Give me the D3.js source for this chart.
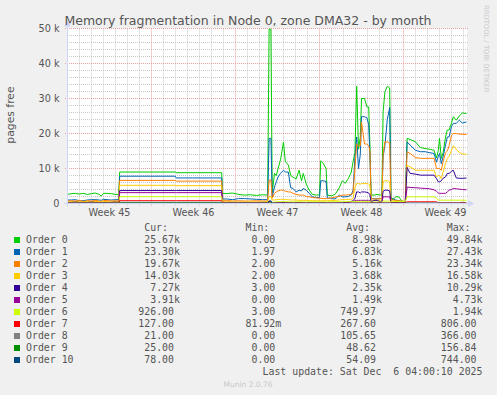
<!DOCTYPE html>
<html>
<head>
<meta charset="utf-8">
<script src="https://cdn.jsdelivr.net/npm/d3@7"></script>
<style>
  html, body { margin: 0; padding: 0; background: #f0f0f0; }
  svg { display: block; }
</style>
</head>
<body>
<script>
(function(){

//sample times, in days after Monday 3 Nov 2025 00:00
var days = [0, 0.3, 0.65, 1.0, 1.3, 1.65, 2.0, 2.3, 2.65, 2.8, 3.0, 3.3, 3.65, 4.0, 4.27,
  4.35, 8.98, 9.06, 12.85, 12.93,
  13.25, 13.75, 14.25, 14.75, 15.25, 15.75, 16.25, 16.68,
  16.8, 16.95, 17.06,
  17.25, 17.4, 17.55, 17.75, 18.0, 18.15, 18.4, 18.6, 18.8, 19.05, 19.3, 19.5, 19.65, 19.9, 20.15,
  20.4, 20.75, 21.0, 21.1, 21.3, 21.55, 21.65, 22.0, 22.3, 22.65, 22.9, 23.15, 23.4, 23.65, 23.8,
  23.95, 24.1, 24.25, 24.4, 24.5, 24.75, 24.95, 25.1, 25.2, 25.3, 25.55, 25.8, 26.05, 26.2, 26.3,
  26.45, 26.65, 26.85, 26.95, 27.1, 27.35, 27.6, 27.85, 28.05, 28.15,
  28.3, 28.55, 29.0, 29.4, 29.8, 30.2, 30.55, 30.75, 30.9, 31.0, 31.15, 31.3, 31.5, 31.65, 31.8,
  32.0, 32.15, 32.4, 32.65, 32.9, 33.25];

//pages free, in thousands
var order0 = [2.6, 2.8, 2.9, 2.7, 2.9, 2.6, 2.8, 3.0, 2.6, 2.1, 2.9, 2.9, 2.8, 2.6, 2.6,
  9.0, 9.0, 8.8, 8.8, 2.9,
  2.8, 3.0, 2.6, 2.4, 2.5, 2.3, 2.5, 2.4,
  49.8, 49.8, 3.0,
  8.6, 8.0, 10.0, 12.5, 17.5, 12.0, 11.0, 8.0, 7.5, 7.0, 9.5, 6.5, 8.6, 5.5, 3.8,
  2.6, 2.4, 2.5, 12.2, 11.5, 10.0, 2.4, 2.2, 2.6, 4.5, 6.5, 5.8, 7.1, 9.0, 12.0,
  14.5, 33.5, 15.5, 19.0, 30.0, 30.0, 27.6, 27.6, 17.0, 2.4, 2.4, 2.6, 2.4, 2.6, 26.2,
  31.9, 33.5, 33.0, 2.0, 1.0, 1.9, 1.9, 0.8, 0.3, 0.5,
  18.6, 18.3, 17.6, 16.0, 15.7, 15.5, 15.2, 13.0, 15.2, 18.6, 12.9, 14.5, 19.0, 21.0, 21.0,
  23.0, 24.8, 23.8, 25.0, 25.9, 25.67];
var order1 = [1.0, 1.0, 1.1, 0.8, 0.8, 1.0, 1.1, 1.1, 1.0, 0.9, 1.2, 1.1, 1.0, 1.1, 1.1,
  7.8, 7.8, 7.3, 7.3, 1.3,
  1.3, 1.1, 1.4, 1.4, 1.3, 1.2, 1.1, 1.1,
  18.6, 18.6, 1.9,
  4.7, 6.2, 7.6, 8.6, 9.5, 9.0, 9.0, 4.5, 4.3, 3.3, 3.8, 3.6, 4.3, 3.8, 2.9,
  1.9, 1.7, 1.7, 6.5, 6.5, 6.3, 1.6, 1.4, 1.3, 2.4, 1.9, 1.9, 2.0, 2.5, 3.8,
  13.0, 19.0, 10.0, 14.0, 24.8, 24.8, 24.5, 22.5, 14.0, 1.4, 1.4, 1.3, 1.4, 1.5, 13.3,
  16.5, 24.0, 27.4, 1.5, 1.4, 1.0, 0.8, 0.6, 0.5, 0.5,
  17.6, 16.7, 15.2, 14.8, 14.8, 14.5, 14.3, 11.8, 13.5, 14.3, 11.4, 13.3, 16.7, 19.0, 19.0,
  22.0, 22.9, 22.9, 23.8, 23.0, 23.3];
var order2 = [0.7, 0.8, 0.7, 0.9, 0.6, 0.8, 0.7, 0.9, 0.7, 0.6, 0.8, 0.9, 0.7, 0.8, 0.7,
  6.6, 6.6, 6.4, 6.4, 0.9,
  0.9, 0.7, 0.8, 0.7, 0.7, 0.8, 0.7, 0.7,
  6.7, 6.7, 1.5,
  2.9, 3.3, 3.6, 3.8, 3.8, 3.5, 3.3, 3.3, 2.9, 2.6, 2.4, 2.4, 2.4, 2.0, 1.9,
  1.7, 1.6, 1.5, 1.5, 1.4, 1.4, 1.4, 1.6, 1.8, 2.1, 2.4, 2.4, 2.5, 2.6, 3.0,
  10.0, 17.0, 16.5, 16.5, 23.3, 17.0, 17.0, 16.5, 15.0, 1.4, 1.3, 1.3, 1.4, 1.4, 14.0,
  17.6, 17.6, 17.3, 1.2, 1.0, 0.9, 0.8, 0.7, 0.6, 0.6,
  14.8, 14.3, 13.1, 12.9, 12.9, 12.9, 12.9, 10.0, 10.0, 10.0, 9.5, 12.0, 14.5, 15.0, 16.5,
  19.5, 20.0, 20.0, 19.8, 19.8, 19.67];
var order3 = [0.5, 0.5, 0.6, 0.5, 0.5, 0.6, 0.5, 0.6, 0.5, 0.5, 0.6, 0.5, 0.5, 0.6, 0.5,
  5.2, 5.2, 5.1, 5.1, 0.5,
  0.5, 0.5, 0.4, 0.5, 0.5, 0.4, 0.5, 0.5,
  2.0, 2.0, 1.0,
  1.0, 1.1, 1.1, 1.2, 1.2, 1.1, 1.1, 1.0, 1.0, 1.0, 0.9, 0.9, 0.9, 0.9, 0.8,
  0.8, 0.8, 0.8, 0.8, 0.8, 0.8, 0.8, 0.8, 0.9, 1.0, 1.1, 1.1, 1.2, 1.2, 1.5,
  4.5, 5.7, 5.7, 5.5, 5.7, 5.7, 5.7, 5.6, 5.0, 0.9, 0.9, 0.9, 0.9, 1.0, 6.2,
  6.5, 6.5, 6.2, 0.8, 0.7, 0.6, 0.5, 0.5, 0.4, 0.4,
  10.9, 10.5, 9.5, 9.5, 9.5, 9.5, 9.5, 7.6, 8.0, 8.0, 7.1, 9.0, 11.4, 12.9, 13.5,
  15.2, 16.5, 15.5, 14.6, 14.2, 14.03];
var order4 = [0.3, 0.3, 0.4, 0.3, 0.3, 0.3, 0.4, 0.3, 0.3, 0.2, 0.3, 0.3, 0.3, 0.4, 0.3,
  3.7, 3.7, 3.7, 3.7, 0.3,
  0.3, 0.3, 0.3, 0.3, 0.2, 0.3, 0.3, 0.3,
  0.6, 0.6, 0.2,
  0.2, 0.2, 0.3, 0.3, 0.3, 0.2, 0.2, 0.2, 0.2, 0.2, 0.2, 0.2, 0.2, 0.2, 0.2,
  0.1, 0.1, 0.1, 0.2, 0.2, 0.2, 0.1, 0.1, 0.1, 0.2, 0.2, 0.3, 0.4, 0.6, 0.8,
  1.5, 3.3, 3.3, 3.0, 3.3, 3.3, 3.2, 3.0, 2.5, 0.5, 0.9, 0.9, 0.5, 0.4, 3.5,
  3.8, 3.8, 3.6, 0.4, 0.3, 0.3, 0.2, 0.2, 0.2, 0.2,
  10.3, 8.6, 8.4, 8.1, 8.1, 8.1, 8.1, 7.1, 6.2, 6.2, 6.5, 7.2, 7.6, 8.6, 8.6,
  9.2, 9.5, 7.3, 7.2, 7.2, 7.27];
var order5 = [0.2, 0.2, 0.2, 0.2, 0.2, 0.2, 0.2, 0.2, 0.2, 0.2, 0.2, 0.2, 0.2, 0.2, 0.2,
  3.1, 3.1, 3.1, 3.1, 0.2,
  0.2, 0.2, 0.2, 0.2, 0.2, 0.2, 0.2, 0.2,
  0.4, 0.4, 0.1,
  0.1, 0.1, 0.1, 0.1, 0.1, 0.1, 0.1, 0.1, 0.1, 0.1, 0.1, 0.1, 0.1, 0.1, 0.1,
  0.1, 0.1, 0.1, 0.1, 0.1, 0.1, 0.1, 0.1, 0.1, 0.1, 0.1, 0.2, 0.3, 0.5, 0.6,
  0.8, 0.9, 0.9, 0.9, 0.9, 0.9, 0.9, 0.9, 0.9, 0.3, 0.3, 0.3, 0.3, 0.3, 1.9,
  1.9, 1.9, 1.9, 0.3, 0.2, 0.2, 0.2, 0.2, 0.2, 0.2,
  4.7, 4.6, 4.5, 4.4, 4.3, 4.2, 3.9, 3.5, 3.0, 2.9, 2.9, 2.9, 2.9, 3.3, 3.8,
  4.0, 4.3, 4.2, 4.1, 4.0, 3.91];
var order6 = [0.1, 0.1, 0.1, 0.1, 0.1, 0.1, 0.1, 0.1, 0.1, 0.1, 0.1, 0.1, 0.1, 0.1, 0.1,
  1.94, 1.94, 1.94, 1.94, 0.1,
  0.1, 0.1, 0.1, 0.1, 0.1, 0.1, 0.1, 0.1,
  0.3, 0.3, 0.3,
  0.4, 0.5, 0.5, 0.5, 0.6, 0.5, 0.5, 0.5, 0.4, 0.5, 0.5, 0.5, 0.5, 0.4, 0.5,
  0.5, 0.5, 0.5, 0.5, 0.5, 0.4, 0.5, 0.5, 0.5, 0.5, 0.5, 0.6, 0.6, 0.6, 0.6,
  0.6, 0.6, 0.6, 0.6, 0.6, 0.6, 0.6, 0.6, 0.6, 0.4, 0.4, 0.4, 0.4, 0.4, 0.7,
  0.7, 0.7, 0.7, 0.5, 0.5, 0.6, 0.6, 0.6, 0.6, 0.6,
  1.9, 1.9, 1.9, 1.9, 1.9, 1.9, 1.9, 1.5, 0.95, 0.95, 0.95, 0.95, 0.95, 0.95, 0.95,
  0.95, 0.95, 0.95, 0.95, 0.95, 0.926];
var order7 = [0.05, 0.05, 0.05, 0.05, 0.05, 0.05, 0.05, 0.05, 0.05, 0.05, 0.05, 0.05, 0.05, 0.05, 0.05,
  0.8, 0.8, 0.8, 0.8, 0.05,
  0.05, 0.05, 0.05, 0.05, 0.05, 0.05, 0.05, 0.05,
  0.1, 0.1, 0.05,
  0.1, 0.1, 0.1, 0.1, 0.1, 0.1, 0.1, 0.1, 0.1, 0.1, 0.1, 0.1, 0.1, 0.1, 0.1,
  0.1, 0.1, 0.1, 0.1, 0.1, 0.1, 0.1, 0.1, 0.1, 0.1, 0.1, 0.1, 0.1, 0.1, 0.1,
  0.15, 0.15, 0.15, 0.15, 0.15, 0.15, 0.15, 0.15, 0.15, 0.15, 0.15, 0.15, 0.15, 0.15, 0.15,
  0.15, 0.15, 0.15, 0.15, 0.15, 0.15, 0.15, 0.15, 0.15, 0.15,
  0.5, 0.5, 0.5, 0.5, 0.5, 0.5, 0.5, 0.5, 0.2, 0.2, 0.2, 0.2, 0.2, 0.2, 0.2,
  0.2, 0.2, 0.2, 0.2, 0.35, 0.127];
var order8 = [0.05, 0.05, 0.05, 0.05, 0.05, 0.05, 0.05, 0.05, 0.05, 0.05, 0.05, 0.05, 0.05, 0.05, 0.05,
  0.35, 0.35, 0.35, 0.35, 0.05,
  0.05, 0.05, 0.05, 0.05, 0.05, 0.05, 0.05, 0.05,
  0.1, 0.1, 0.05,
  0.05, 0.05, 0.05, 0.05, 0.05, 0.05, 0.05, 0.05, 0.05, 0.05, 0.05, 0.05, 0.05, 0.05, 0.05,
  0.05, 0.05, 0.05, 0.05, 0.05, 0.05, 0.05, 0.05, 0.05, 0.05, 0.05, 0.05, 0.05, 0.05, 0.05,
  0.08, 0.08, 0.08, 0.08, 0.08, 0.08, 0.08, 0.08, 0.08, 0.08, 0.08, 0.08, 0.08, 0.08, 0.08,
  0.08, 0.08, 0.08, 0.08, 0.08, 0.08, 0.08, 0.08, 0.08, 0.08,
  0.1, 0.1, 0.1, 0.1, 0.1, 0.1, 0.1, 0.1, 0.1, 0.1, 0.1, 0.1, 0.1, 0.1, 0.1,
  0.1, 0.1, 0.1, 0.1, 0.1, 0.021];
var order9 = [0.03, 0.03, 0.03, 0.03, 0.03, 0.03, 0.03, 0.03, 0.03, 0.03, 0.03, 0.03, 0.03, 0.03, 0.03,
  0.155, 0.155, 0.155, 0.155, 0.03,
  0.03, 0.03, 0.03, 0.03, 0.03, 0.03, 0.03, 0.03,
  0.05, 0.05, 0.05,
  0.03, 0.03, 0.03, 0.03, 0.03, 0.03, 0.03, 0.03, 0.03, 0.03, 0.03, 0.03, 0.03, 0.03, 0.03,
  0.03, 0.03, 0.03, 0.03, 0.03, 0.03, 0.03, 0.03, 0.03, 0.03, 0.03, 0.03, 0.03, 0.03, 0.03,
  0.04, 0.04, 0.04, 0.04, 0.04, 0.04, 0.04, 0.04, 0.04, 0.04, 0.04, 0.04, 0.04, 0.04, 0.04,
  0.04, 0.04, 0.04, 0.04, 0.04, 0.04, 0.04, 0.04, 0.04, 0.04,
  0.03, 0.03, 0.03, 0.03, 0.03, 0.03, 0.03, 0.03, 0.03, 0.03, 0.03, 0.03, 0.03, 0.03, 0.03,
  0.03, 0.03, 0.03, 0.03, 0.03, 0.025];
var order10 = [0.05, 0.05, 0.05, 0.05, 0.05, 0.05, 0.05, 0.05, 0.05, 0.05, 0.05, 0.05, 0.05, 0.05, 0.05,
  0.05, 0.05, 0.05, 0.05, 0.05,
  0.05, 0.05, 0.05, 0.05, 0.05, 0.05, 0.05, 0.05,
  0.74, 0.74, 0.05,
  0.05, 0.05, 0.05, 0.05, 0.05, 0.05, 0.05, 0.05, 0.05, 0.05, 0.05, 0.05, 0.05, 0.05, 0.05,
  0.05, 0.05, 0.05, 0.05, 0.05, 0.05, 0.05, 0.05, 0.05, 0.05, 0.05, 0.05, 0.05, 0.05, 0.05,
  0.05, 0.05, 0.05, 0.05, 0.05, 0.05, 0.05, 0.05, 0.05, 0.05, 0.05, 0.05, 0.05, 0.05, 0.05,
  0.05, 0.05, 0.05, 0.05, 0.05, 0.05, 0.05, 0.05, 0.05, 0.05,
  0.06, 0.06, 0.06, 0.06, 0.06, 0.06, 0.06, 0.06, 0.06, 0.06, 0.06, 0.06, 0.06, 0.06, 0.06,
  0.06, 0.06, 0.06, 0.06, 0.06, 0.078];

var seriesNames = ["Order 0", "Order 1", "Order 2", "Order 3", "Order 4", "Order 5",
  "Order 6", "Order 7", "Order 8", "Order 9", "Order 10"];
var seriesColors = ["#00cc00", "#0066b3", "#ff8000", "#ffcc00", "#330099", "#990099",
  "#ccff00", "#ff0000", "#808080", "#008f00", "#00487d"];
var seriesValues = [order0, order1, order2, order3, order4, order5,
  order6, order7, order8, order9, order10];

//legend figures as printed
var curText = ["25.67k", "23.30k", "19.67k", "14.03k", "7.27k", "3.91k", "926.00", "127.00", "21.00", "25.00", "78.00"];
var minText = ["0.00", "1.97", "2.00", "2.00", "3.00", "0.00", "3.00", "81.92m", "0.00", "0.00", "0.00"];
var avgText = ["8.98k", "6.83k", "5.16k", "3.68k", "2.35k", "1.49k", "749.97", "267.60", "105.65", "48.62", "54.09"];
var maxText = ["49.84k", "27.43k", "23.34k", "16.58k", "10.29k", "4.73k", "1.94k", "806.00", "366.00", "156.84", "744.00"];
var columnHeads = ["Cur:", "Min:", "Avg:", "Max:"];

var yTicks = [0, 10000, 20000, 30000, 40000, 50000];
var yTickLabels = ["0", "10 k", "20 k", "30 k", "40 k", "50 k"];

var width = 497, height = 395;
var left = 67, right = 467, top = 28.5, bottom = 203.5;
var sans = "'DejaVu Sans', sans-serif", mono = "'DejaVu Sans Mono', monospace";

var monday = Date.UTC(2025, 10, 3);
var t0 = new Date(monday - 3600e3);
var t1 = new Date(t0.getTime() + 400 / 12 * 864e5);

var x = d3.scaleUtc().domain([t0, t1]).range([left, right]);
var y = d3.scaleLinear().domain([0, 50000]).range([bottom, top]);

var svg = d3.select("body").append("svg")
  .attr("width", width)
  .attr("height", height);

svg.append("rect").attr("width", width).attr("height", height).attr("fill", "#f0f0f0");
svg.append("rect")
  .attr("x", left).attr("y", top)
  .attr("width", right - left).attr("height", bottom - top)
  .attr("fill", "#ffffff");

//grid lines
var minorY = y.ticks(25).filter(function(v){ return v % 10000 != 0; });
svg.selectAll(".gridY").data(minorY).enter().append("line")
  .attr("x1", left).attr("x2", right + 1)
  .attr("y1", function(d){ return y(d); }).attr("y2", function(d){ return y(d); })
  .attr("stroke", "#c8c8c8").attr("stroke-dasharray", "1,1");

var mondays = d3.utcMonday.range(t0, t1);
var minorX = d3.utcDay.range(t0, t1).filter(function(d){ return d.getUTCDay() != 1; });
svg.selectAll(".gridX").data(minorX).enter().append("line")
  .attr("x1", function(d){ return x(d); }).attr("x2", function(d){ return x(d); })
  .attr("y1", top).attr("y2", bottom + 2)
  .attr("stroke", "#c8c8c8").attr("stroke-dasharray", "1,1");

svg.selectAll(".mgridY").data(yTicks).enter().append("line")
  .attr("x1", left - 2).attr("x2", right + 1)
  .attr("y1", function(d){ return y(d); }).attr("y2", function(d){ return y(d); })
  .attr("stroke", "#e8a0a0").attr("stroke-dasharray", "1,1");
svg.selectAll(".mgridX").data(mondays).enter().append("line")
  .attr("x1", function(d){ return x(d); }).attr("x2", function(d){ return x(d); })
  .attr("y1", top).attr("y2", bottom + 3)
  .attr("stroke", "#e8a0a0").attr("stroke-dasharray", "1,1");

//series lines
svg.append("clipPath").attr("id", "plotClip")
  .append("rect").attr("x", left).attr("y", top - 2)
  .attr("width", right - left + 1).attr("height", bottom - top + 2);

var line = d3.line()
  .x(function(d, i){ return x(new Date(monday + days[i] * 864e5)); })
  .y(function(d){ return y(d * 1000); });

svg.append("g").attr("clip-path", "url(#plotClip)")
  .selectAll("path").data(seriesValues).enter().append("path")
  .attr("d", line)
  .attr("fill", "none")
  .attr("stroke", function(d, i){ return seriesColors[i]; })
  .attr("stroke-width", 1);

//axes with arrows
svg.append("line").attr("x1", left - 3).attr("x2", right + 2)
  .attr("y1", bottom).attr("y2", bottom).attr("stroke", "#cfd6f8");
svg.append("line").attr("x1", left + 0.5).attr("x2", left + 0.5)
  .attr("y1", bottom + 3).attr("y2", top - 3).attr("stroke", "#cfd6f8");
svg.append("path").attr("d", "M" + (right + 1) + "," + (bottom - 3.5) + "l6,3.5l-6,3.5z").attr("fill", "#cfd6f8");
svg.append("path").attr("d", "M" + (left - 3) + "," + (top - 2) + "l3.5,-6l3.5,6z").attr("fill", "#cfd6f8");

//texts
svg.append("text").attr("x", 248).attr("y", 24.5)
  .attr("text-anchor", "middle").attr("font-family", sans).attr("font-size", 12.5)
  .attr("fill", "#555").text("Memory fragmentation in Node 0, zone DMA32 - by month");

svg.selectAll(".ylab").data(yTicks).enter().append("text")
  .attr("x", 59.5).attr("y", function(d){ return y(d) + 3.5; })
  .attr("text-anchor", "end").attr("font-family", sans).attr("font-size", 9.7)
  .attr("fill", "#555").text(function(d, i){ return yTickLabels[i]; });

svg.selectAll(".xlab").data(mondays).enter().append("text")
  .attr("x", function(d){ return x(new Date(d.getTime() + 3.5 * 864e5)); })
  .attr("y", 216)
  .attr("text-anchor", "middle").attr("font-family", sans).attr("font-size", 9.7)
  .attr("fill", "#555").text(d3.utcFormat("Week %V"));

svg.append("text").attr("transform", "translate(14,115) rotate(-90)")
  .attr("text-anchor", "middle").attr("font-family", sans).attr("font-size", 10.8)
  .attr("fill", "#555").text("pages free");

svg.append("text").attr("transform", "translate(484,5) rotate(90)")
  .attr("font-family", sans).attr("font-size", 6.8)
  .attr("fill", "#c8c8c8").text("RRDTOOL / TOBI OETIKER");

//legend
var colEnds = [174, 275.3, 376, 476.5];
var rowBase = 243.3, rowStep = 12;

svg.selectAll(".head").data(columnHeads).enter().append("text")
  .attr("x", function(d, i){ return colEnds[i] - 6; }).attr("y", 231)
  .attr("text-anchor", "end").attr("font-family", mono).attr("font-size", 9.9)
  .attr("fill", "#555").text(function(d){ return d; });

var rows = svg.selectAll(".row").data(seriesNames).enter().append("g")
  .attr("transform", function(d, i){ return "translate(0," + (rowBase + i * rowStep) + ")"; });

rows.append("rect").attr("x", 14).attr("y", -6.3).attr("width", 6).attr("height", 6)
  .attr("fill", function(d, i){ return seriesColors[i]; });
rows.append("text").attr("x", 26).attr("font-family", mono).attr("font-size", 9.9)
  .attr("fill", "#555").text(function(d){ return d; });

[curText, minText, avgText, maxText].forEach(function(col, c){
  rows.each(function(d, i){
    var s = col[i], unit = "";
    if (/[km]$/.test(s)){ unit = s.slice(-1); s = s.slice(0, -1); }
    var g = d3.select(this);
    g.append("text").attr("x", colEnds[c]).attr("text-anchor", "end")
      .attr("font-family", mono).attr("font-size", 9.9).attr("fill", "#555").text(s);
    if (unit) g.append("text").attr("x", colEnds[c])
      .attr("font-family", mono).attr("font-size", 9.9).attr("fill", "#555").text(unit);
  });
});

svg.append("text").attr("x", 482.5).attr("y", 375.3)
  .attr("text-anchor", "end").attr("font-family", mono).attr("font-size", 9.9)
  .attr("fill", "#555").style("white-space", "pre")
  .text("Last update: Sat Dec  6 04:00:10 2025");

svg.append("text").attr("x", 248).attr("y", 387)
  .attr("text-anchor", "middle").attr("font-family", sans).attr("font-size", 7.5)
  .attr("fill", "#c8c8c8").text("Munin 2.0.76");

})();
</script>
</body>
</html>
